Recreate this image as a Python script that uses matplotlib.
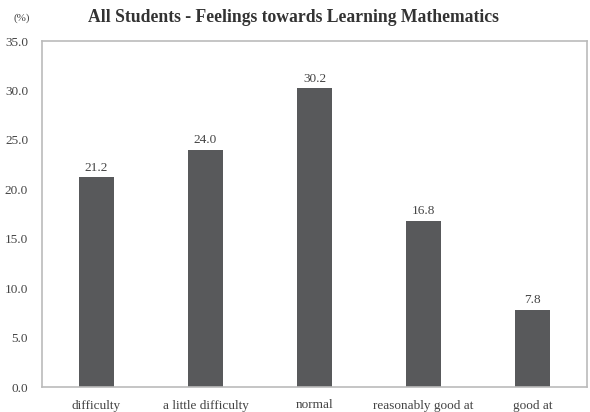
import matplotlib
matplotlib.use("Agg")
import matplotlib.pyplot as plt

categories = ["difficulty", "a little difficulty", "normal", "reasonably good at", "good at"]
values = [21.2, 24.0, 30.2, 16.8, 7.8]
yticks = [0.0, 5.0, 10.0, 15.0, 20.0, 25.0, 30.0, 35.0]

plt.rcParams['font.family'] = ['Liberation Serif', 'DejaVu Serif']

fig = plt.figure(figsize=(5.90, 4.12), dpi=100)
ax = fig.add_axes([42/590, 1 - 387/412, 545/590, 346/412])
x = list(range(len(categories)))
ax.bar(x, values, width=0.32, color="#58595b")
for xi, v in zip(x, values):
    ax.text(xi, v + 0.35, f"{v:.1f}", ha="center", va="bottom", fontsize=9.5, color="#444444")
ax.set_xlim(-0.5, len(categories) - 0.5)
ax.set_ylim(0, 35)
ax.set_yticks(yticks)
ax.set_yticklabels([f"{t:.1f}" for t in yticks], fontsize=9.5, color="#444444")
ax.set_xticks(x)
ax.set_xticklabels(categories, fontsize=9.5, color="#444444")
ax.tick_params(axis='x', length=0, pad=9)
ax.tick_params(axis='y', length=0, pad=10)
for s in ax.spines.values():
    s.set_color("#bbbbbb")
    s.set_linewidth(1.2)
fig.text(293/590, 1 - 18/412, "All Students - Feelings towards Learning Mathematics",
         ha="center", va="center", fontsize=12.7, fontweight="bold", color="#333333")
fig.text(22/590, 1 - 18/412, "(%)", ha="center", va="center", fontsize=8, color="#444444")
fig.savefig("out.png", dpi=100)
